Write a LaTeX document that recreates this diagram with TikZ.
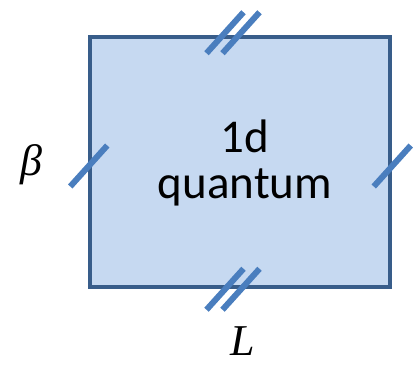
\documentclass[tikz,border=0pt]{standalone}
\usepackage{fontspec}
\setmainfont{Carlito}
\newfontfamily\labelfont{Liberation Serif}
\usepackage{tikz}
\definecolor{cellfill}{RGB}{198, 217, 241}
\definecolor{celldraw}{RGB}{56, 93, 138}
\definecolor{tickblue}{RGB}{74, 126, 190}

\begin{document}
\begin{tikzpicture}[
    x=1pt, y=1pt,
    cell/.style={rectangle, draw=celldraw, fill=cellfill, line width=4.5pt,
                 minimum width=300pt, minimum height=250pt, inner sep=0pt},
    celltext/.style={align=center, font=\fontsize{47}{46}\selectfont},
    mathlabel/.style={font=\labelfont\itshape\fontsize{44}{44}\selectfont, inner sep=0pt},
    tick/.style={draw=tickblue, line width=6pt}
]
\useasboundingbox (0,0) rectangle (415,369);

% Square
\node[cell] (box) at (240,207) {};
\node[celltext] (txt) at (245,206) {1d\\quantum};

% Labels
\node[mathlabel] (beta) at (31,204) {β};
\node[mathlabel] (len) at (243,28) {L};

% Ticks
\foreach \dx in {-15,1} {
  \draw[tick] ([shift={(\dx,2)}]box.north) +(-18.5,-20.5) -- +(18.5,20.5);
  \draw[tick] ([shift={(\dx,0)}]box.south) +(-18.5,-20.5) -- +(18.5,20.5);
}
\draw[tick] ([shift={(1,-4)}]box.west) +(-18.5,-20.5) -- +(18.5,20.5);
\draw[tick] ([shift={(0,-4)}]box.east) +(-18.5,-20.5) -- +(18.5,20.5);

\end{tikzpicture}
\end{document}
